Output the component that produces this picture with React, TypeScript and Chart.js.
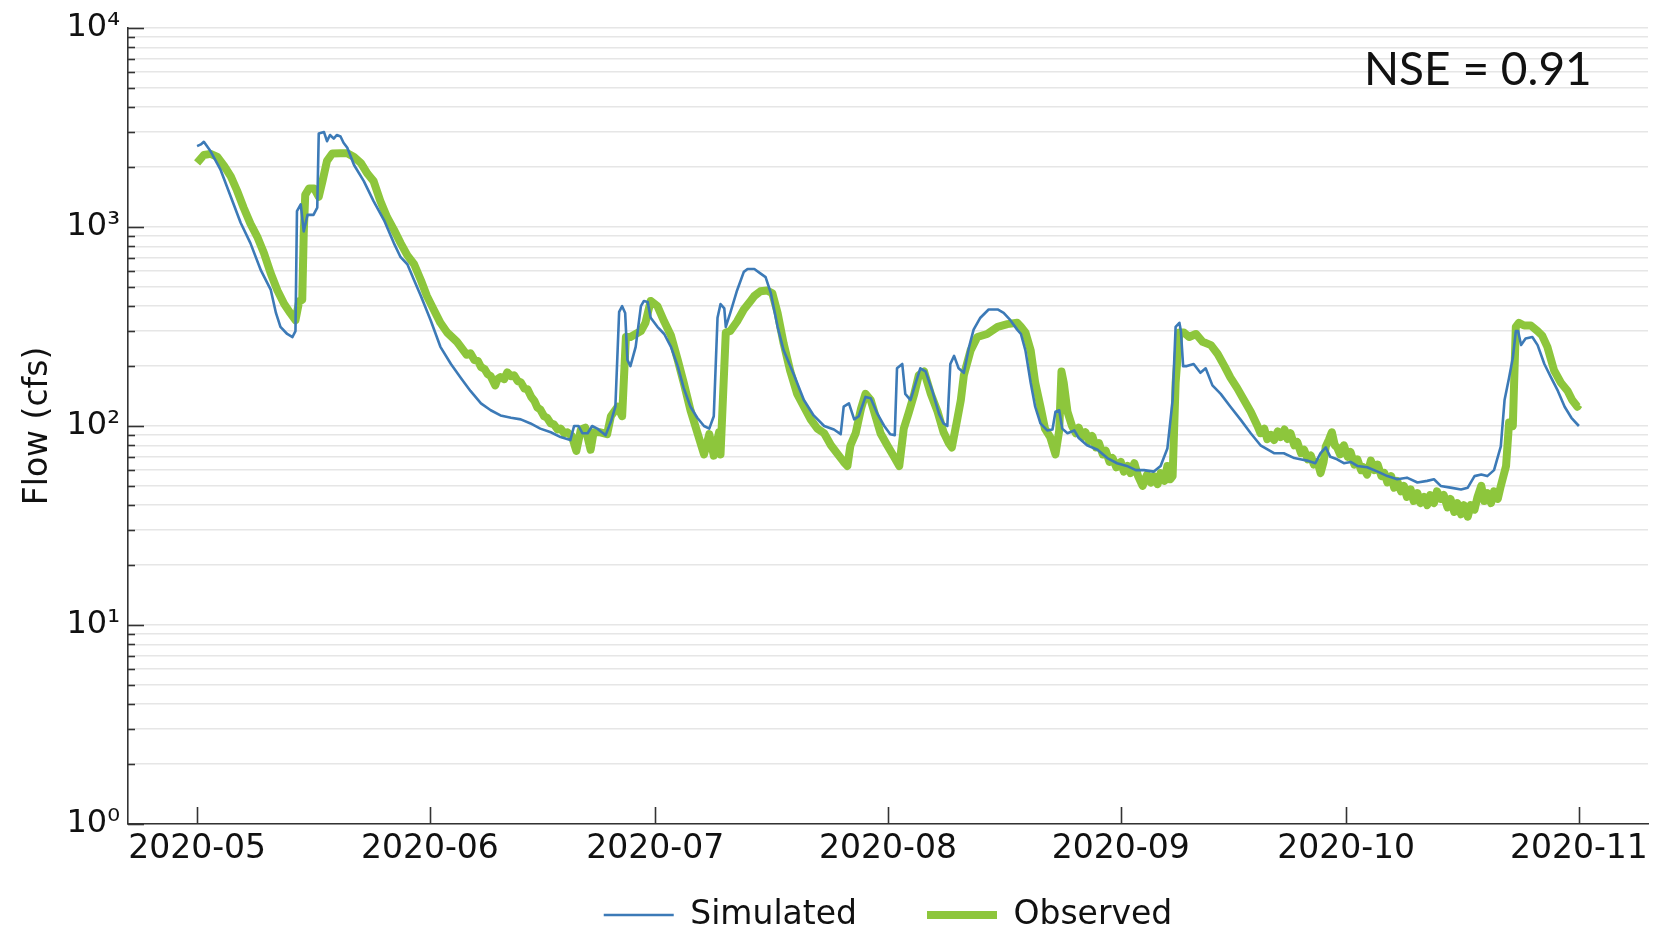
import React, { useEffect, useRef } from 'react';
import { Chart, registerables } from 'chart.js';

Chart.register(...registerables);

// x axis: days since 2020-05-01
const monthTickDays = [0, 31, 61, 92, 123, 153, 184];
const monthTickLabels = ['2020-05', '2020-06', '2020-07', '2020-08', '2020-09', '2020-10', '2020-11'];
const yDecades = [1, 10, 100, 1000, 10000];
const yDecadeLabels = ['10⁰', '10¹', '10²', '10³', '10⁴'];

const simDay = [
  0, 0.5, 0.9, 1.8, 3.1, 4.5, 5.8, 7.1, 8.5, 9.8, 10.5, 11.1, 12.0, 12.7, 13.1, 13.3, 13.8, 14.2, 14.7, 15.5,
  16.0, 16.2, 16.9, 17.3, 17.7, 18.2, 18.6, 19.1, 19.5, 20.0, 20.9, 22.2, 23.5, 24.9, 26.2, 27.1, 28.0, 28.9, 29.8, 31.1,
  32.4, 33.8, 35.1, 36.4, 37.8, 39.1, 40.4, 41.8, 43.1, 44.4, 45.7, 47.1, 48.4, 49.7, 50.2, 50.8, 51.3, 52.0, 52.6, 53.3,
  53.9, 54.4, 55.1, 55.7, 56.2, 56.6, 57.0, 57.3, 57.7, 58.4, 59.1, 59.5, 60.0, 60.4, 61.3, 62.2, 63.1, 64.0, 64.8, 65.7,
  66.6, 67.5, 68.2, 68.8, 69.3, 69.7, 70.2, 70.4, 71.0, 71.9, 72.8, 73.3, 74.2, 75.0, 75.7, 76.4, 77.3, 78.1, 79.5, 80.8,
  82.1, 83.5, 84.8, 85.7, 86.1, 86.8, 87.5, 88.1, 89.0, 89.7, 90.6, 91.5, 92.3, 92.9, 93.2, 93.9, 94.3, 95.0, 95.7, 96.3,
  97.0, 97.9, 98.8, 99.4, 99.9, 100.3, 100.8, 101.4, 102.1, 102.8, 103.4, 104.3, 105.4, 106.6, 107.4, 108.3, 109.2, 109.7, 110.3, 111.0,
  111.6, 112.3, 113.2, 113.9, 114.3, 114.8, 115.2, 115.9, 116.8, 117.4, 118.5, 119.9, 121.2, 122.5, 123.8, 125.0, 126.1, 127.4, 128.3, 129.2,
  129.9, 130.3, 130.8, 131.0, 131.3, 131.8, 132.7, 133.6, 134.3, 135.2, 136.3, 137.6, 139.0, 140.3, 141.6, 143.4, 144.7, 146.1, 146.9, 147.8,
  148.9, 149.6, 150.3, 150.9, 151.8, 152.7, 153.6, 154.5, 155.8, 157.2, 158.5, 159.8, 161.1, 162.5, 163.8, 164.7, 165.6, 166.9, 168.3, 169.2,
  170.1, 171.0, 171.8, 172.7, 173.6, 174.1, 174.7, 175.2, 175.6, 175.9, 176.3, 176.9, 177.8, 178.5, 179.4, 180.3, 181.2, 182.1, 183.0, 184.0,
];
const simFlow = [
  2550, 2600, 2680, 2400, 1950, 1415, 1050, 830, 605, 485, 370, 315, 290, 280, 300, 1200, 1300, 950, 1150, 1150,
  1250, 2950, 3000, 2700, 2900, 2780, 2900, 2850, 2650, 2500, 2050, 1700, 1350, 1080, 830, 705, 650, 540, 450, 340,
  250, 205, 175, 150, 130, 120, 113, 110, 108, 103, 97, 93, 88, 85, 100, 100, 92, 92, 100, 97,
  93, 90, 105, 125, 375, 400, 370, 215, 200, 250, 400, 425, 420, 350, 315, 290, 250, 200, 155, 125,
  110, 100, 97, 112, 350, 410, 390, 315, 370, 480, 595, 615, 615, 585, 560, 465, 315, 240, 180, 135,
  113, 100, 96, 91, 125, 130, 108, 112, 140, 138, 115, 100, 91, 90, 195, 205, 145, 135, 165, 195,
  188, 150, 115, 103, 100, 205, 225, 195, 185, 250, 305, 350, 385, 385, 370, 340, 305, 290, 240, 165,
  125, 103, 95, 96, 118, 120, 97, 92, 95, 87, 80, 76, 69, 65, 63, 60, 60, 59, 63, 77,
  135, 315, 330, 300, 200, 200, 205, 185, 195, 160, 145, 125, 107, 92, 80, 73, 73, 69, 68, 67,
  65, 73, 78, 70, 68, 65, 66, 63, 62, 59, 56, 54, 55, 52, 53, 54, 50, 49, 48, 49,
  56, 57, 56, 60, 79, 135, 175, 220, 300, 300, 255, 275, 280, 255, 205, 175, 150, 125, 110, 100,
];

const obsDay = [
  0, 0.9, 1.8, 2.7, 3.6, 4.5, 5.3, 6.2, 7.1, 8.0, 8.9, 9.8, 10.7, 11.6, 12.4, 13.1, 13.6, 14.0, 14.2, 14.4,
  14.9, 15.6, 16.2, 16.7, 17.3, 18.0, 19.1, 20.0, 20.9, 21.8, 22.7, 23.5, 24.4, 25.3, 26.2, 27.1, 28.0, 28.9, 29.8, 30.6,
  31.5, 32.4, 33.3, 34.6, 35.9,
  36.4, 36.9, 37.4, 37.8, 38.3, 38.7, 39.1, 39.7, 40.0, 40.4, 40.9, 41.3, 41.8, 42.2, 42.7, 43.1, 43.6, 44.0, 44.5, 44.9,
  45.3, 45.7, 46.2, 46.6, 47.1, 47.5, 48.0, 48.4, 48.9, 49.3, 49.9,
  50.5, 51.1, 51.7, 52.4, 52.8, 53.7, 54.6, 55.1, 56.0, 56.6, 57.1, 57.7, 58.4, 59.1, 59.7, 60.4, 61.3, 62.2, 63.1,
  64.0, 64.8, 65.7, 66.6, 67.5, 68.2, 68.8, 69.5, 69.7, 70.4, 71.0, 71.9, 72.8, 73.7, 74.2, 75.0, 75.9, 76.6, 77.3, 78.1,
  79.0, 79.9, 80.8, 81.7, 82.6, 83.5, 84.4, 85.2, 86.1, 86.6, 87.0, 87.7, 88.4, 89.0, 89.7, 90.4, 91.0, 91.9, 92.8, 93.5,
  94.1, 94.8, 95.5, 96.1, 96.8, 97.7, 98.6, 99.4, 100.1, 100.5, 101.2, 101.7, 102.1, 103.0, 103.9, 105.2, 106.6, 107.9, 109.2, 109.7,
  110.3, 111.0, 111.6, 112.3, 112.9, 113.6, 114.3, 114.8, 115.1, 115.4, 115.9,
  116.5, 117.0, 117.4, 117.9, 118.3, 118.8, 119.2, 119.7, 120.1, 120.6, 121.0, 121.5, 121.9, 122.4, 123.0, 123.4, 123.9, 124.3, 124.8, 125.3,
  125.9, 126.5, 127.0, 127.4, 127.9, 128.3, 128.8, 129.2, 129.6, 129.9,
  130.3, 130.8, 131.4, 132.1, 133.0, 133.9, 135.0, 135.9, 136.8, 137.6, 138.5, 139.4, 140.3,
  141.2, 141.6, 142.1, 142.5, 143.0, 143.4, 143.9, 144.3, 144.8, 145.2, 145.6, 146.1, 146.5, 147.0, 147.4, 147.9, 148.3, 148.7, 149.2, 149.6,
  150.0, 150.3, 150.7, 151.1, 151.5, 151.8,
  152.2, 152.7, 153.2, 153.6, 154.1, 154.5, 155.0, 155.3, 155.8, 156.3, 156.8, 157.2, 157.7, 158.1, 158.5, 159.0, 159.4, 159.8, 160.3, 160.7,
  161.1, 161.6, 162.0, 162.5, 162.9, 163.4, 163.8, 164.2, 164.7, 165.1, 165.6, 166.0, 166.5, 166.9, 167.4, 167.8, 168.3, 168.7, 169.2, 169.6,
  170.1, 170.5, 171.0, 171.4, 171.8, 172.3, 172.7, 173.2, 173.6,
  174.3, 174.7, 175.2, 175.6, 176.0, 176.7, 177.6, 178.5, 179.1, 179.8, 180.7, 181.6, 182.5, 183.1, 183.8, 184.0,
];
const obsFlow = [
  2100, 2300, 2330, 2250, 2030, 1790, 1530, 1250, 1040, 895, 740, 585, 480, 410, 370, 340, 425, 430, 930, 1450,
  1560, 1560, 1420, 1700, 2150, 2340, 2350, 2350, 2250, 2100, 1850, 1700, 1350, 1120, 970, 830, 720, 650, 540, 450,
  385, 330, 295, 265, 228,
  232, 215, 212, 198, 193, 182, 178, 160, 172, 176, 172, 186, 178, 180, 168, 166, 154, 153, 140, 134,
  124, 121, 112, 110, 103, 102, 96, 97, 92, 93, 89,
  75, 96, 98, 76, 93, 93, 91, 112, 125, 112, 280, 280, 290, 300, 330, 425, 400, 335, 285,
  215, 165, 120, 93, 72, 91, 71, 93, 72, 295, 300, 335, 385, 425, 450, 475, 480, 465, 370, 260,
  188, 145, 125, 108, 97, 92, 80, 73, 66, 63, 80, 92, 122, 145, 135, 110, 92, 80, 70, 63,
  97, 118, 145, 180, 188, 145, 118, 93, 82, 78, 107, 135, 180, 240, 280, 290, 315, 325, 330, 315,
  295, 240, 165, 125, 97, 88, 72, 95, 188, 165, 118,
  100, 92, 98, 88, 93, 84, 89, 78, 82, 72, 75, 66, 69, 62, 66, 59, 63, 58, 65, 56,
  50, 57, 52, 56, 51, 58, 53, 63, 54, 56,
  165, 295, 295, 280, 290, 265, 255, 230, 200, 175, 155, 135, 118,
  100, 92, 97, 86, 90, 85, 94, 88, 96, 86, 92, 80, 83, 73, 76, 68, 71, 64, 66, 58,
  66, 79, 85, 93, 80, 78,
  72, 80, 70, 74, 64, 68, 60, 62, 57, 67, 60, 64, 56, 58, 52, 56, 49, 53, 47, 50,
  44, 48, 42, 46, 41, 44, 40, 45, 41, 47, 43, 45, 39, 43, 37, 41, 36, 40, 35, 40,
  38, 44, 50, 42, 46, 41, 47, 43, 50,
  63, 104, 100, 315, 330, 320, 320, 300, 285, 250, 190, 165, 150, 135, 125, 128,
];

function buildYTicks(): number[] {
  const out: number[] = [];
  for (let i = 0; i < yDecades.length - 1; i++) {
    for (let k = 1; k <= 9; k++) out.push(k * yDecades[i]);
  }
  out.push(yDecades[yDecades.length - 1]);
  return out;
}

const AXIS_COLOR = '#333333';
const FONT = 'DejaVu Sans';

const decorPlugin = {
  id: 'decor',
  afterLayout(chart: any) {
    // let the x tick labels extend below the (thin) axis box so they are not clipped
    const xs = chart.scales.x;
    xs.bottom = xs.top + 70;
    xs.height = 70;
  },
  afterDraw(chart: any) {
    const { ctx, chartArea, scales } = chart;
    const xs = scales.x;
    const ys = scales.y;
    ctx.save();
    ctx.strokeStyle = AXIS_COLOR;
    ctx.lineWidth = 1.6;
    ys.ticks.forEach((t: any) => {
      const py = Math.round(ys.getPixelForValue(t.value)) + 0.5;
      const major = yDecades.indexOf(t.value) >= 0;
      const len = major ? 16 : 7;
      ctx.beginPath();
      ctx.moveTo(chartArea.left, py);
      ctx.lineTo(chartArea.left + len, py);
      ctx.stroke();
    });
    xs.ticks.forEach((t: any) => {
      const px = Math.round(xs.getPixelForValue(t.value)) + 0.5;
      ctx.beginPath();
      ctx.moveTo(px, chartArea.bottom);
      ctx.lineTo(px, chartArea.bottom - 17);
      ctx.stroke();
    });
    ctx.fillStyle = '#111111';
    ctx.font = '46px Lato';
    ctx.textAlign = 'left';
    ctx.textBaseline = 'alphabetic';
    ctx.fillText('NSE = 0.91', 1364, 85);
    ctx.restore();
  },
};

export default function App() {
  const canvasRef = useRef<HTMLCanvasElement | null>(null);

  useEffect(() => {
    if (!canvasRef.current) return;
    const yTicks = buildYTicks();
    const chart = new Chart(canvasRef.current, {
      type: 'line',
      data: {
        datasets: [
          {
            label: 'Simulated',
            data: simDay.map((d, i) => ({ x: d, y: simFlow[i] })),
            borderColor: '#3c7ab7',
            backgroundColor: '#3c7ab7',
            borderWidth: 2.6,
            pointRadius: 0,
            tension: 0,
            borderJoinStyle: 'round',
          },
          {
            label: 'Observed',
            data: obsDay.map((d, i) => ({ x: d, y: obsFlow[i] })),
            borderColor: '#8dc63c',
            backgroundColor: '#8dc63c',
            borderWidth: 8,
            pointRadius: 0,
            tension: 0,
            borderJoinStyle: 'round',
          },
        ],
      },
      options: {
        animation: false,
        responsive: false,
        maintainAspectRatio: false,
        devicePixelRatio: 1,
        layout: { padding: { left: 0, right: 25, top: 28, bottom: 1.5 } },
        plugins: {
          legend: {
            position: 'bottom',
            fullSize: false,
            labels: {
              usePointStyle: true,
              pointStyle: 'line',
              pointStyleWidth: 70,
              padding: 70,
              color: '#111111',
              font: { family: FONT, size: 33 },
            },
          },
          tooltip: { enabled: false },
        },
        scales: {
          x: {
            type: 'linear',
            min: -9.2,
            max: 193.2,
            afterBuildTicks: (scale: any) => {
              scale.ticks = monthTickDays.map((v) => ({ value: v }));
            },
            afterFit: (scale: any) => {
              scale.height = 4.5;
            },
            grid: { display: false, drawTicks: false },
            border: { display: true, color: AXIS_COLOR, width: 1.6 },
            ticks: {
              autoSkip: false,
              maxRotation: 0,
              padding: 5.5,
              color: '#111111',
              font: { family: FONT, size: 33 },
              callback: (value: any) => {
                const i = monthTickDays.indexOf(Number(value));
                return i >= 0 ? monthTickLabels[i] : '';
              },
            },
          },
          y: {
            type: 'logarithmic',
            min: 1,
            max: 10000,
            afterBuildTicks: (scale: any) => {
              scale.ticks = yTicks.map((v) => ({ value: v, major: yDecades.indexOf(v) >= 0 }));
            },
            afterFit: (scale: any) => {
              scale.width = 128;
            },
            grid: { display: true, drawTicks: false, color: '#e6e6e6', lineWidth: 1.5 },
            border: { display: true, color: AXIS_COLOR, width: 1.6 },
            title: {
              display: true,
              text: 'Flow (cfs)',
              color: '#111111',
              font: { family: FONT, size: 33 },
              padding: { top: 19, bottom: 0 },
            },
            ticks: {
              autoSkip: false,
              padding: 8,
              color: '#111111',
              font: { family: FONT, size: 32 },
              callback: (value: any) => {
                const i = yDecades.indexOf(Number(value));
                return i >= 0 ? yDecadeLabels[i] : '';
              },
            },
          },
        },
      },
      plugins: [decorPlugin],
    } as any);
    return () => chart.destroy();
  }, []);

  return (
    <div style={{ position: 'fixed', left: 0, top: 0, width: 1673, height: 943, background: '#ffffff' }}>
      <canvas ref={canvasRef} width={1673} height={943} style={{ display: 'block' }} />
    </div>
  );
}
